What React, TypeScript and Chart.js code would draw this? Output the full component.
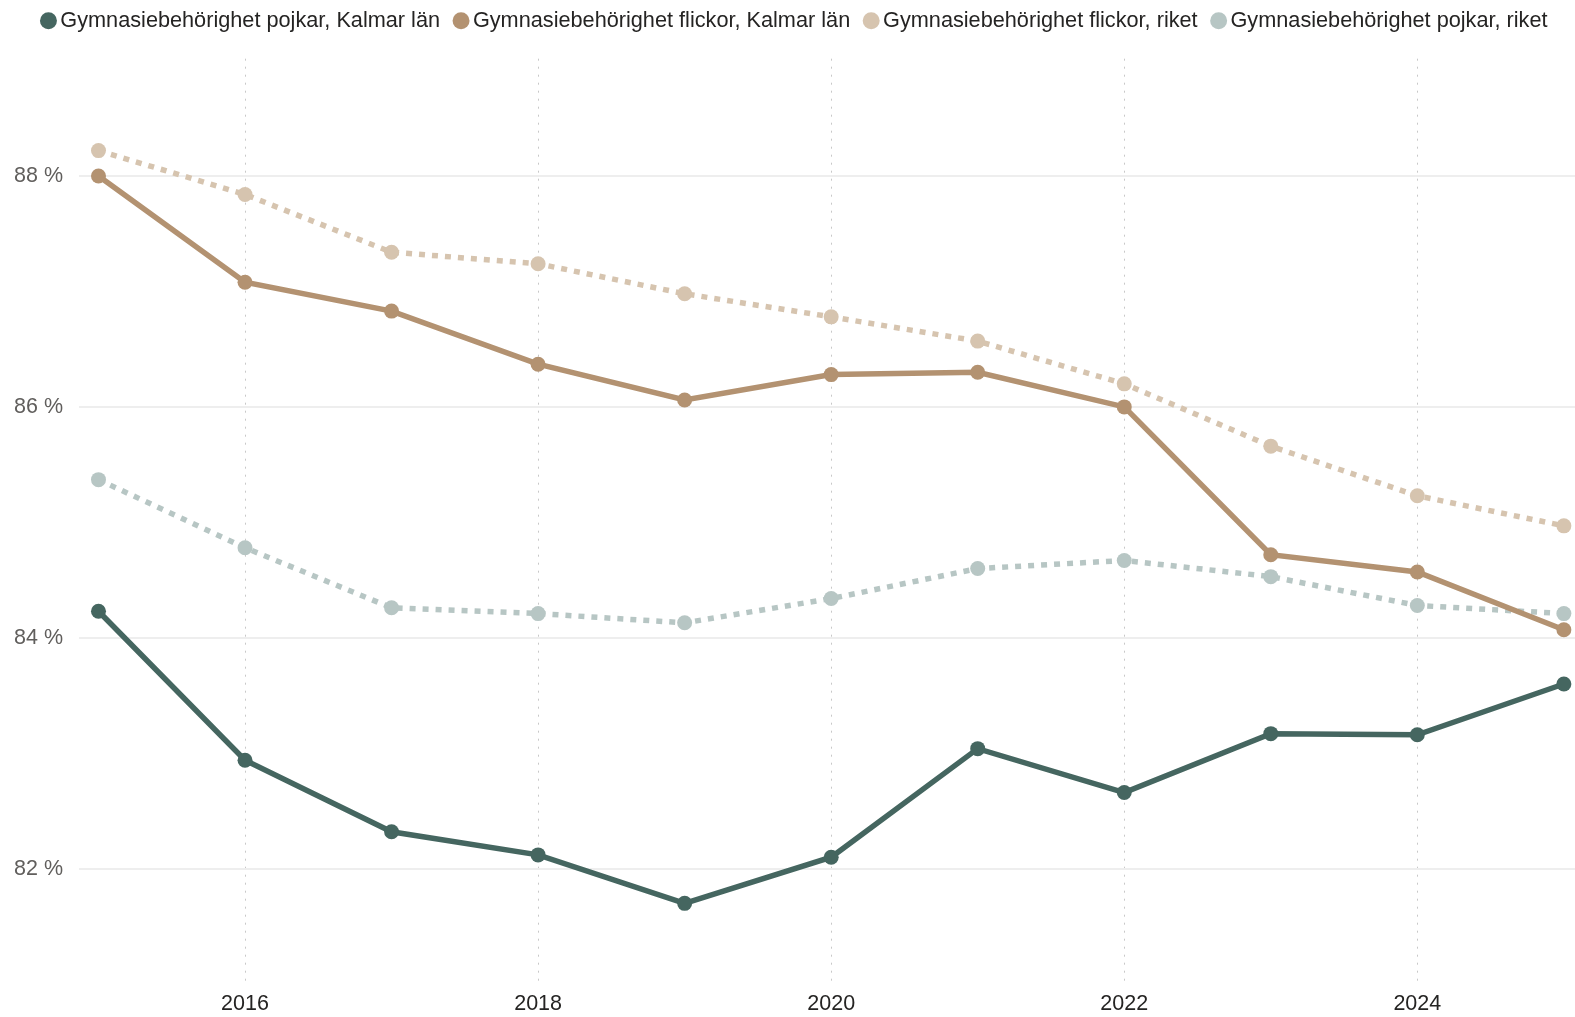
import React, { useEffect, useRef } from "react";
import { Chart, registerables } from "chart.js";

Chart.register(...registerables);

const years = [2015, 2016, 2017, 2018, 2019, 2020, 2021, 2022, 2023, 2024, 2025];
const pojkarKalmar = [84.23, 82.94, 82.32, 82.12, 81.7, 82.1, 83.04, 82.66, 83.17, 83.16, 83.6];
const flickorKalmar = [88.0, 87.08, 86.83, 86.37, 86.06, 86.28, 86.3, 86.0, 84.72, 84.57, 84.07];
const flickorRiket = [88.22, 87.84, 87.34, 87.24, 86.98, 86.78, 86.57, 86.2, 85.66, 85.23, 84.97];
const pojkarRiket = [85.37, 84.78, 84.26, 84.21, 84.13, 84.34, 84.6, 84.67, 84.53, 84.28, 84.21];

const seriesLabels = [
  "Gymnasiebehörighet pojkar, Kalmar län",
  "Gymnasiebehörighet flickor, Kalmar län",
  "Gymnasiebehörighet flickor, riket",
  "Gymnasiebehörighet pojkar, riket",
];
const xTicks = [2016, 2018, 2020, 2022, 2024];
const yTicks = [82, 84, 86, 88];

const FONT = "'Liberation Sans', Arial, sans-serif";

function toPoints(vals: number[]) {
  return years.map((y, i) => ({ x: y, y: vals[i] }));
}

export default function App() {
  const ref = useRef<HTMLCanvasElement | null>(null);
  useEffect(() => {
    document.body.style.margin = "0";
    document.body.style.overflow = "hidden";
    document.documentElement.style.overflow = "hidden";
    const canvas = ref.current;
    if (!canvas) return;
    const legendSpacing = {
      id: "legendSpacing",
      beforeInit(chart: any) {
        const orig = chart.legend.fit;
        chart.legend.fit = function () {
          orig.bind(chart.legend)();
          this.height += 17;
        };
      },
      afterLayout(chart: any) {
        if (chart.legend) {
          chart.legend.left += 10;
          chart.legend.right += 10;
        }
      },
    };
    const mk = (label: string, vals: number[], color: string, dashed: boolean) => ({
      label,
      data: toPoints(vals),
      borderColor: color,
      backgroundColor: color,
      pointBackgroundColor: color,
      pointBorderColor: color,
      pointBorderWidth: 0,
      pointRadius: 7.5,
      borderWidth: 5.5,
      borderDash: dashed ? [6, 7] : [],
      tension: 0,
      borderCapStyle: "butt" as const,
    });
    const chart = new Chart(canvas, {
      type: "line",
      data: {
        datasets: [
          mk(seriesLabels[0], pojkarKalmar, "#456660", false),
          mk(seriesLabels[1], flickorKalmar, "#b39271", false),
          mk(seriesLabels[2], flickorRiket, "#d6c4af", true),
          mk(seriesLabels[3], pojkarRiket, "#b7c6c4", true),
        ],
      },
      options: {
        animation: false,
        responsive: false,
        maintainAspectRatio: false,
        layout: { padding: { top: -10, left: 0, right: 0, bottom: 0 }, autoPadding: false },
        plugins: {
          tooltip: { enabled: false },
          legend: {
            position: "top",
            align: "center",
            labels: {
              usePointStyle: true,
              pointStyle: "circle",
              boxHeight: 12,
              boxWidth: 2,
              padding: 20,
              color: "#252423",
              font: { family: FONT, size: 21.7 },
            },
          },
        },
        scales: {
          x: {
            type: "linear",
            min: 2014.867,
            max: 2025.076,
            afterBuildTicks: (scale: any) => {
              scale.ticks = xTicks.map((v) => ({ value: v }));
            },
            afterFit: (scale: any) => {
              scale.height = 32;
            },
            ticks: {
              padding: 6,
              color: "#252423",
              font: { family: FONT, size: 21.5 },
              callback: (v: any) => String(v),
              maxRotation: 0,
            },
            grid: {
              color: "#c8c8c8",
              lineWidth: 1,
              drawTicks: false,
            },
            border: { display: false, dash: [2, 6] },
          },
          y: {
            type: "linear",
            min: 80.993,
            max: 89.016,
            afterBuildTicks: (scale: any) => {
              scale.ticks = yTicks.map((v) => ({ value: v }));
            },
            afterFit: (scale: any) => {
              scale.width = 79;
            },
            ticks: {
              padding: 16,
              color: "#605e5c",
              font: { family: FONT, size: 21.5 },
              callback: (v: any) => `${v} %`,
            },
            grid: {
              color: "#eeeeee",
              lineWidth: 2,
              drawTicks: false,
            },
            border: { display: false },
          },
        },
      },
      plugins: [legendSpacing],
    });
    return () => chart.destroy();
  }, []);
  return (
    <div style={{ position: "absolute", left: 0, top: 0, width: 1575, height: 1017, overflow: "hidden" }}>
      <canvas ref={ref} width={1575} height={1017} style={{ display: "block", width: 1575, height: 1017 }} />
    </div>
  );
}
